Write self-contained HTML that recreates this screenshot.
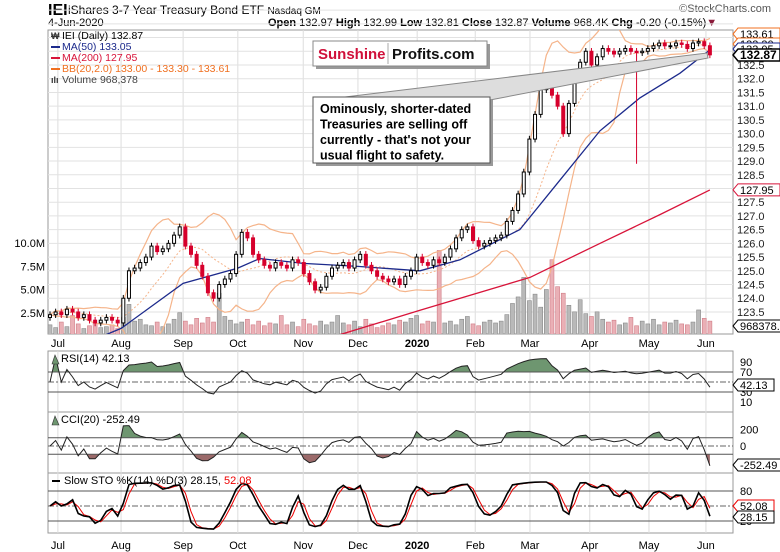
<!DOCTYPE html>
<html><head><meta charset="utf-8"><style>
html,body{margin:0;padding:0;background:#fff;}
svg{display:block;font-family:"Liberation Sans",sans-serif;}
</style></head><body>
<svg id="c" width="780" height="552" viewBox="0 0 780 552" xmlns="http://www.w3.org/2000/svg">
<rect x="0" y="0" width="780" height="552" fill="#fff"/>
<text x="48" y="15" font-size="16" font-weight="bold">IEI</text>
<text x="68" y="14" font-size="12">iShares 3-7 Year Treasury Bond ETF <tspan font-size="10">Nasdaq GM</tspan></text>
<text x="48" y="26" font-size="11">4-Jun-2020</text>
<text x="268" y="26" font-size="11"><tspan font-weight="bold">Open</tspan> 132.97 <tspan font-weight="bold">High</tspan> 132.99 <tspan font-weight="bold">Low</tspan> 132.81 <tspan font-weight="bold">Close</tspan> 132.87 <tspan font-weight="bold">Volume</tspan> 968.4K <tspan font-weight="bold">Chg</tspan> -0.20 (-0.15%)<tspan fill="#8b1a3a">▼</tspan></text>
<text x="771" y="12" font-size="11" fill="#555" text-anchor="end">©StockCharts.com</text>
<g id="g"></g>
</svg>
<script>
const closes=[123.4,123.5,123.4,123.6,123.5,123.3,123.4,123.2,123.1,123.2,
123.3,123.2,123.1,124.0,125.0,125.1,125.3,125.5,125.9,125.7,
125.8,126.0,126.3,126.6,125.9,125.6,125.2,124.8,124.2,124.0,
124.5,124.7,124.9,125.6,126.4,126.2,125.6,125.4,125.2,125.1,
125.3,125.2,125.1,125.4,125.3,124.9,124.6,124.3,124.4,124.8,
125.1,125.2,125.3,125.1,125.4,125.6,125.2,125.0,124.8,124.7,
124.6,124.7,124.5,124.8,125.0,125.5,125.3,125.2,125.4,125.3,
125.5,125.8,126.2,126.5,126.6,126.1,125.9,126.0,126.1,126.2,
126.3,126.8,127.2,127.8,128.6,129.8,130.7,131.6,132.0,131.4,
131.0,130.0,131.1,132.2,132.6,133.0,132.5,132.8,133.1,133.0,
132.9,133.0,133.1,133.0,132.95,133.0,133.1,133.2,133.3,133.2,
133.2,133.3,133.25,133.1,133.3,133.35,133.2,132.87];
const volumes=[1.2,0.9,1.5,1.0,2.2,1.3,0.8,1.1,1.4,0.9,
1.0,1.2,0.8,2.0,3.4,1.6,1.8,1.2,1.1,1.5,
1.0,1.3,1.8,2.5,1.6,1.2,1.9,1.4,2.0,1.5,
4.6,2.1,1.7,1.3,1.5,1.8,1.2,1.6,1.1,1.4,
1.3,2.2,1.2,1.5,1.0,1.8,1.3,1.1,1.6,1.2,
1.5,2.2,1.4,1.2,1.6,1.0,1.8,1.3,0.9,1.1,
1.4,1.2,1.7,1.5,1.9,2.2,1.3,1.6,1.5,9.2,
1.4,1.6,1.2,1.8,2.1,1.3,1.1,1.5,1.7,1.4,
1.6,2.3,3.5,4.2,6.3,3.8,4.5,3.1,5.0,8.2,
5.3,4.6,3.3,2.6,3.9,2.4,2.1,2.6,1.8,1.5,
1.7,1.2,1.4,2.0,1.1,1.6,1.3,1.8,1.2,1.5,
1.4,1.7,1.3,1.2,1.5,2.8,1.9,1.6];
const ma50Idx=[8.5,12.6,23.6,33.3,37.2,44.9,54.6,65.6,72.7,83.3,90.4,97.5,104.6,111.7,117];
const ma50Val=[122.55,122.9,124.54,125.1,125.45,125.27,125.16,125.0,125.4,126.5,128.3,130.1,131.3,132.2,133.05];
const ma200Idx=[50.2,65.6,85.1,97.5,108.2,117];
const ma200Val=[122.6,123.56,124.76,126.0,127.05,127.95];
const monthNames=['Jul','Aug','Sep','Oct','Nov','Dec','2020','Feb','Mar','Apr','May','Jun'];
const monthIdx=[1.4,12.6,23.6,33.3,44.9,54.6,65.1,75.4,85.1,95.7,106.2,116.3];
const priceTicks=[123.5,124.0,124.5,125.0,125.5,126.0,126.5,127.0,127.5,128.0,128.5,129.0,129.5,130.0,130.5,131.0,131.5,132.0,132.5];
const volTicks=[2.5,5.0,7.5,10.0];
const volTickLabels=['2.5M','5.0M','7.5M','10.0M'];
const spikeIdx=104, spikeLow=128.9;

const NS='http://www.w3.org/2000/svg';
const G=document.getElementById('g');
const L=48,R=733;
const X=i=>50+i*5.64;
const Yp=p=>65+(132.5-p)*27.44;
const Yv=v=>336-v*9.3;
const Yr=v=>382-(v-50)*0.5;
const Yc=v=>446-v*0.082;
const Ys=v=>506-(v-50)*0.5;
function mk(tag,a,p){const e=document.createElementNS(NS,tag);for(const k in a)e.setAttribute(k,a[k]);(p||G).appendChild(e);return e;}
function txt(x,y,s,a,p){const e=mk('text',Object.assign({x:x,y:y,'font-size':11},a||{}),p);e.textContent=s;return e;}
function pl(pts){return pts.map((p,k)=>(k?'L':'M')+p[0].toFixed(1)+','+p[1].toFixed(1)).join('');}

// defs / clips
const defs=mk('defs',{});
function clip(id,x,y,w,h){const c=mk('clipPath',{id:id},defs);mk('rect',{x:x,y:y,width:w,height:h},c);}
clip('cm',L,30,R-L,304);clip('cr',L,351,R-L,61);clip('cc',L,412,R-L,61);clip('cs',L,473,R-L,60);
clip('cr70',L,351,R-L,Yr(70)-351);clip('cc100',L,412,R-L,Yc(100)-412);clip('ccm100',L,Yc(-100),R-L,473-Yc(-100));

// panels
const panels=[[30,334,'price-panel'],[351,412,'rsi-panel'],[412,473,'cci-panel'],[473,533,'sto-panel']];
panels.forEach(p=>{const r=mk('rect',{x:L,y:p[0],width:R-L,height:p[1]-p[0],fill:'#fff',stroke:'#999','stroke-width':1});

});
// month grid & labels
monthIdx.forEach((mi,k)=>{
  panels.forEach(p=>{const l=mk('line',{x1:X(mi),x2:X(mi),y1:p[0],y2:p[1],stroke:'#ddd'});
  
  });
  [347,549].forEach(yy=>{const t=txt(X(mi),yy,monthNames[k],{'text-anchor':'middle','font-weight':monthNames[k]==='2020'?'bold':'normal'});
  
  });
});
// price grid + ticks
for(let p=123.5;p<=134.5;p+=0.5){const l=mk('line',{x1:L,x2:R,y1:Yp(p),y2:Yp(p),stroke:'#e2e2e2'});

}
priceTicks.forEach(p=>{const t=txt(737,Yp(p)+4,p.toFixed(1),{fill:'#222'});

});
volTicks.forEach((v,k)=>{const t=txt(45,Yv(v)+4,volTickLabels[k],{'text-anchor':'end'});

});

const gm=mk('g',{'clip-path':'url(#cm)'});
// volume
closes.forEach((c,i)=>{const prev=i?closes[i-1]:c;const dn=c<prev;
 const b=mk('rect',{x:X(i)-2,y:Yv(volumes[i]),width:4,height:336-Yv(volumes[i]),fill:dn?'#eab0b6':'#b9b9b9',stroke:dn?'#d07c86':'#8a8a8a','stroke-width':0.6},gm);
 
 });
// bollinger
const up=[],lo=[],mid=[];
closes.forEach((c,i)=>{const s=closes.slice(Math.max(0,i-9),i+1);const m=s.reduce((a,b)=>a+b,0)/s.length;
 const sd=Math.sqrt(s.reduce((a,b)=>a+(b-m)*(b-m),0)/s.length);up.push([X(i),Yp(m+2*sd)]);lo.push([X(i),Yp(m-2*sd)]);mid.push([X(i),Yp(m)]);});
let e=mk('path',{d:pl(up),fill:'none',stroke:'#f5b48a','stroke-width':1.2},gm);


e=mk('path',{d:pl(lo),fill:'none',stroke:'#f5b48a','stroke-width':1.2},gm);


e=mk('path',{d:pl(mid),fill:'none',stroke:'#f5b48a','stroke-width':1,'stroke-dasharray':'2,2'},gm);


e=mk('path',{d:pl(ma200Idx.map((m,k)=>[X(m),Yp(ma200Val[k])])),fill:'none',stroke:'#d8143a','stroke-width':1.3},gm);


e=mk('path',{d:pl(ma50Idx.map((m,k)=>[X(m),Yp(ma50Val[k])])),fill:'none',stroke:'#1c2a8c','stroke-width':1.3},gm);


// candles
closes.forEach((c,i)=>{const o=i?closes[i-1]:123.3;const hi=Math.max(o,c)+0.12;let lw=Math.min(o,c)-0.12;if(i===spikeIdx)lw=spikeLow;
 const dn=c<o;const col=dn?'#d6002c':'#000';
 const w=mk('line',{x1:X(i),x2:X(i),y1:Yp(hi),y2:Yp(lw),stroke:col,'stroke-width':1},gm);
 
 
 const top=Yp(Math.max(o,c)),h=Math.max(1,Math.abs(Yp(o)-Yp(c)));
 const b=mk('rect',{x:X(i)-1.5,y:top,width:3,height:h,fill:dn?col:'#fff',stroke:col,'stroke-width':1},gm);
 
 });

// indicators
function rsi(n){const out=[];let ag=0,al=0;for(let i=0;i<closes.length;i++){if(i===0){out.push(50);continue;}
 const d=closes[i]-closes[i-1];const g=Math.max(d,0),l=Math.max(-d,0);if(i<=n){ag=(ag*(i-1)+g)/i;al=(al*(i-1)+l)/i;}else{ag=(ag*(n-1)+g)/n;al=(al*(n-1)+l)/n;}
 out.push(al===0?100:100-100/(1+ag/al));}return out;}
function cci(n){return closes.map((c,i)=>{const s=closes.slice(Math.max(0,i-n+1),i+1);const m=s.reduce((a,b)=>a+b,0)/s.length;
 const md=s.reduce((a,b)=>a+Math.abs(b-m),0)/s.length;return md===0?0:(c-m)/(0.015*md);});}
function sma(a,n){return a.map((v,i)=>{const s=a.slice(Math.max(0,i-n+1),i+1);return s.reduce((x,y)=>x+y,0)/s.length;});}
const rsiV=rsi(7),cciV=cci(10);
const fk=closes.map((c,i)=>{const s=closes.slice(Math.max(0,i-6),i+1);const hh=Math.max(...s)+0.1,ll=Math.min(...s)-0.1;return 100*(c-ll)/(hh-ll);});
const kV=sma(fk,2),dV=sma(kV,2);

function hl(y,dash,nm){const l=mk('line',{x1:L,x2:R,y1:y,y2:y,stroke:dash?'#666':'#555','stroke-width':1,'stroke-dasharray':dash?'6,2,2,2':'none'});
 
 }
// RSI
const rp=rsiV.map((v,i)=>[X(i),Yr(v)]);
e=mk('path',{d:'M'+X(0)+','+Yr(70)+pl(rp).replace('M','L')+'L'+X(closes.length-1)+','+Yr(70)+'Z',fill:'#6e9670','clip-path':'url(#cr70)'});


hl(Yr(70),0,'rsi-70-line');hl(Yr(30),0,'rsi-30-line');hl(Yr(50),1,'rsi-50-line');
e=mk('path',{d:pl(rp),fill:'none',stroke:'#222','stroke-width':1,'clip-path':'url(#cr)'});


// CCI
const cp=cciV.map((v,i)=>[X(i),Yc(v)]);
e=mk('path',{d:'M'+X(0)+','+Yc(100)+pl(cp).replace('M','L')+'L'+X(closes.length-1)+','+Yc(100)+'Z',fill:'#6e9670','clip-path':'url(#cc100)'});


e=mk('path',{d:'M'+X(0)+','+Yc(-100)+pl(cp).replace('M','L')+'L'+X(closes.length-1)+','+Yc(-100)+'Z',fill:'#9b6a6a','clip-path':'url(#ccm100)'});


hl(Yc(100),0,'cci-100-line');hl(Yc(-100),0,'cci-minus100-line');hl(Yc(0),1,'cci-zero-line');
e=mk('path',{d:pl(cp),fill:'none',stroke:'#222','stroke-width':1,'clip-path':'url(#cc)'});


// STO
hl(Ys(80),0,'sto-80-line');hl(Ys(20),0,'sto-20-line');hl(Ys(50),1,'sto-50-line');
e=mk('path',{d:pl(dV.map((v,i)=>[X(i),Ys(v)])),fill:'none',stroke:'#e00','stroke-width':1,'clip-path':'url(#cs)'});


e=mk('path',{d:pl(kV.map((v,i)=>[X(i),Ys(v)])),fill:'none',stroke:'#000','stroke-width':1.6,'clip-path':'url(#cs)'});



// indicator ticks
[[90,Yr],[70,Yr],[50,Yr],[30,Yr],[10,Yr]].forEach(t=>{const s=txt(740,t[1](t[0])+4,String(t[0]));
 
 });
[[200,'200'],[0,'0'],[-200,'-200']].forEach(t=>{const s=txt(740,Yc(t[0])+4,t[1]);
 
 });
[80,20].forEach(v=>{const s=txt(740,Ys(v)+4,String(v));
 
 });

// right value tags
function tag(y,s,col,bold,nm){const w=s.length*6+6;
 const p=mk('path',{d:`M733,${y} L738,${y-6} L${738+w},${y-6} L${738+w},${y+6} L738,${y+6} Z`,fill:'#fff',stroke:col,'stroke-width':bold?1.5:1});
 
 
 const t=txt(740,y+4,s,{'font-weight':bold?'bold':'normal','font-size':bold?12:11});
 
 }
tag(34,'133.61','#f07020',0,'bb-upper');tag(44,'133.30','#f07020',0,'bb-mid');tag(49,'133.05','#1c2a8c',0,'ma50');tag(55,'132.87','#000',1,'last-price');
tag(Yp(127.95),'127.95','#d8143a',0,'ma200');tag(326,'968378.0','#000',0,'volume');
tag(385,'42.13','#000',0,'rsi');tag(465,'-252.49','#000',0,'cci');tag(506,'52.08','#e00',0,'sto-d');tag(517,'28.15','#000',0,'sto-k');

// legend
const lg=[['IEI (Daily) 132.87','#000'],['MA(50) 133.05','#1c2a8c'],['MA(200) 127.95','#d8143a'],['BB(20,2.0) 133.00 - 133.30 - 133.61','#f07020'],['Volume 968,378','#444']];
lg.forEach((l,k)=>{const y=39+k*11;
 if(k===0||k===4){const t=txt(51,y,k===0?'₩':'ılı',{'font-size':9,fill:'#333','font-weight':'bold'});
  
  }
 else{const r=mk('rect',{x:51,y:y-4,width:9,height:2,fill:l[1]});
  
  }
 const t=txt(62,y,l[0],{fill:l[1],'font-size':10.5});
 
 });
// indicator titles
[['RSI(14) 42.13',362,'rsi-title'],['CCI(20) -252.49',423,'cci-title']].forEach(a=>{
 const p=mk('path',{d:`M52,${a[1]+2} L55,${a[1]-7} L59,${a[1]+2} Z`,fill:'#6e9670',stroke:'#333','stroke-width':0.6});
 
 
 const t=txt(61,a[1],a[0]);
 
 });
e=mk('rect',{x:52,y:480,width:8,height:2,fill:'#000'});


e=txt(64,484,'Slow STO %K(14) %D(3) 28.15, ');


const ts=mk('tspan',{fill:'#e00'},e);ts.textContent='52.08';

// callout lines
e=mk('path',{d:'M345,97 L707,53 L708,58 L490,100 Z',fill:'#ddd',stroke:'#888','stroke-width':1});


// annotation box
e=mk('rect',{x:316,y:100,width:177,height:66,fill:'#999'});


e=mk('rect',{x:313,y:97,width:177,height:66,fill:'#fff',stroke:'#555'});


['Ominously, shorter-dated','Treasuries are selling off','currently - that\'s not your','usual flight to safety.'].forEach((s,k)=>{
 const t=txt(320,113+k*15.5,s,{'font-size':12.5,'font-weight':'bold'});
 
 });
// logo
e=mk('rect',{x:316,y:44,width:174,height:25,fill:'#999'});


e=mk('rect',{x:313,y:41,width:174,height:25,fill:'#fff',stroke:'#888'});


e=txt(318,59,'Sunshine',{'font-size':15,'font-weight':'bold',fill:'#d0103a'});


e=mk('line',{x1:388,x2:388,y1:43,y2:64,stroke:'#aaa'});


e=txt(392,59,'Profits.com',{'font-size':15,'font-weight':'bold',fill:'#111'});


</script>
</body></html>
